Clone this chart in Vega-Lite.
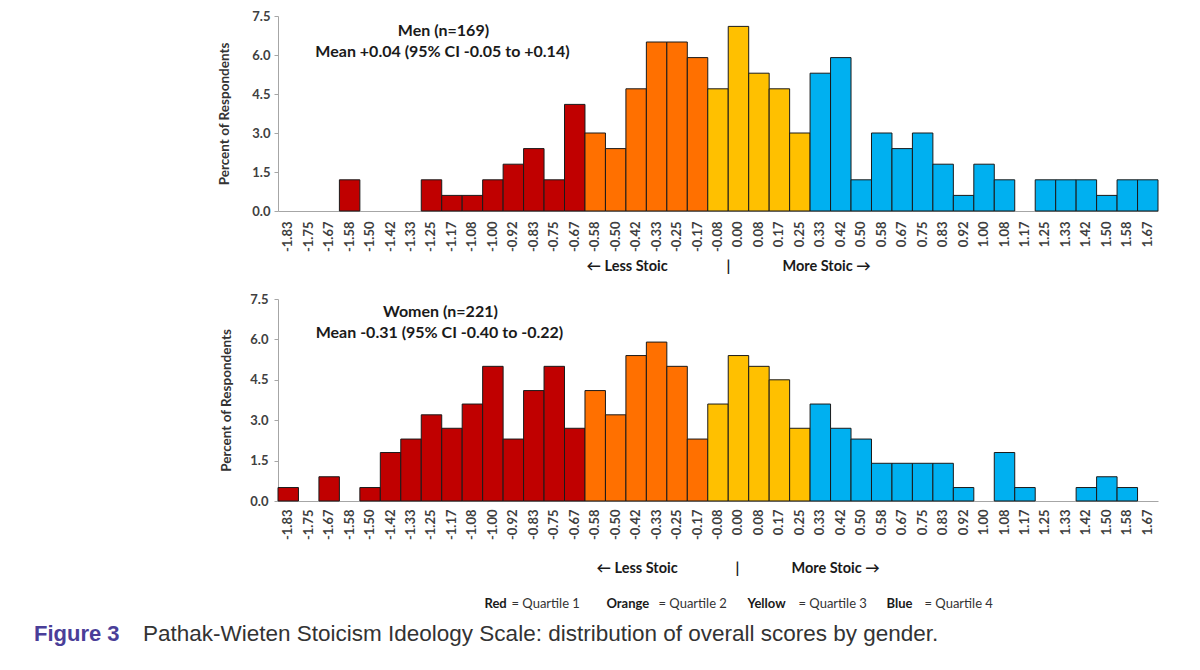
{
  "$schema": "https://vega.github.io/schema/vega-lite/v6.json",
  "padding": {"left": 33, "top": 10, "right": 5, "bottom": 5},
  "background": "white",
  "bounds": "flush",
  "spacing": 88,
  "config": {
    "view": {"stroke": null},
    "font": "Lato",
    "axis": {"grid": false, "domainColor": "#A6A6A6", "tickColor": "#A6A6A6", "labelFont": "Lato", "labelFontWeight": "bold", "labelColor": "#404040", "labelFontSize": 13, "labelOverlap": false, "titleFont": "Lato", "titleFontWeight": "bold", "titleColor": "#333333", "titleFontSize": 13.5}
  },
  "datasets": {
    "men": [
      {"score": "-1.83", "pct": 0, "q": "Q1"}, {"score": "-1.75", "pct": 0, "q": "Q1"}, {"score": "-1.67", "pct": 0, "q": "Q1"},
      {"score": "-1.58", "pct": 1.2, "q": "Q1"}, {"score": "-1.50", "pct": 0, "q": "Q1"}, {"score": "-1.42", "pct": 0, "q": "Q1"},
      {"score": "-1.33", "pct": 0, "q": "Q1"}, {"score": "-1.25", "pct": 1.2, "q": "Q1"}, {"score": "-1.17", "pct": 0.6, "q": "Q1"},
      {"score": "-1.08", "pct": 0.6, "q": "Q1"}, {"score": "-1.00", "pct": 1.2, "q": "Q1"}, {"score": "-0.92", "pct": 1.8, "q": "Q1"},
      {"score": "-0.83", "pct": 2.4, "q": "Q1"}, {"score": "-0.75", "pct": 1.2, "q": "Q1"}, {"score": "-0.67", "pct": 4.1, "q": "Q1"},
      {"score": "-0.58", "pct": 3.0, "q": "Q2"}, {"score": "-0.50", "pct": 2.4, "q": "Q2"}, {"score": "-0.42", "pct": 4.7, "q": "Q2"},
      {"score": "-0.33", "pct": 6.5, "q": "Q2"}, {"score": "-0.25", "pct": 6.5, "q": "Q2"}, {"score": "-0.17", "pct": 5.9, "q": "Q2"},
      {"score": "-0.08", "pct": 4.7, "q": "Q3"}, {"score": "0.00", "pct": 7.1, "q": "Q3"}, {"score": "0.08", "pct": 5.3, "q": "Q3"},
      {"score": "0.17", "pct": 4.7, "q": "Q3"}, {"score": "0.25", "pct": 3.0, "q": "Q3"},
      {"score": "0.33", "pct": 5.3, "q": "Q4"}, {"score": "0.42", "pct": 5.9, "q": "Q4"}, {"score": "0.50", "pct": 1.2, "q": "Q4"},
      {"score": "0.58", "pct": 3.0, "q": "Q4"}, {"score": "0.67", "pct": 2.4, "q": "Q4"}, {"score": "0.75", "pct": 3.0, "q": "Q4"},
      {"score": "0.83", "pct": 1.8, "q": "Q4"}, {"score": "0.92", "pct": 0.6, "q": "Q4"}, {"score": "1.00", "pct": 1.8, "q": "Q4"},
      {"score": "1.08", "pct": 1.2, "q": "Q4"}, {"score": "1.17", "pct": 0, "q": "Q4"}, {"score": "1.25", "pct": 1.2, "q": "Q4"},
      {"score": "1.33", "pct": 1.2, "q": "Q4"}, {"score": "1.42", "pct": 1.2, "q": "Q4"}, {"score": "1.50", "pct": 0.6, "q": "Q4"},
      {"score": "1.58", "pct": 1.2, "q": "Q4"}, {"score": "1.67", "pct": 1.2, "q": "Q4"}
    ],
    "women": [
      {"score": "-1.83", "pct": 0.5, "q": "Q1"}, {"score": "-1.75", "pct": 0, "q": "Q1"}, {"score": "-1.67", "pct": 0.9, "q": "Q1"},
      {"score": "-1.58", "pct": 0, "q": "Q1"}, {"score": "-1.50", "pct": 0.5, "q": "Q1"}, {"score": "-1.42", "pct": 1.8, "q": "Q1"},
      {"score": "-1.33", "pct": 2.3, "q": "Q1"}, {"score": "-1.25", "pct": 3.2, "q": "Q1"}, {"score": "-1.17", "pct": 2.7, "q": "Q1"},
      {"score": "-1.08", "pct": 3.6, "q": "Q1"}, {"score": "-1.00", "pct": 5.0, "q": "Q1"}, {"score": "-0.92", "pct": 2.3, "q": "Q1"},
      {"score": "-0.83", "pct": 4.1, "q": "Q1"}, {"score": "-0.75", "pct": 5.0, "q": "Q1"}, {"score": "-0.67", "pct": 2.7, "q": "Q1"},
      {"score": "-0.58", "pct": 4.1, "q": "Q2"}, {"score": "-0.50", "pct": 3.2, "q": "Q2"}, {"score": "-0.42", "pct": 5.4, "q": "Q2"},
      {"score": "-0.33", "pct": 5.9, "q": "Q2"}, {"score": "-0.25", "pct": 5.0, "q": "Q2"}, {"score": "-0.17", "pct": 2.3, "q": "Q2"},
      {"score": "-0.08", "pct": 3.6, "q": "Q3"}, {"score": "0.00", "pct": 5.4, "q": "Q3"}, {"score": "0.08", "pct": 5.0, "q": "Q3"},
      {"score": "0.17", "pct": 4.5, "q": "Q3"}, {"score": "0.25", "pct": 2.7, "q": "Q3"},
      {"score": "0.33", "pct": 3.6, "q": "Q4"}, {"score": "0.42", "pct": 2.7, "q": "Q4"}, {"score": "0.50", "pct": 2.3, "q": "Q4"},
      {"score": "0.58", "pct": 1.4, "q": "Q4"}, {"score": "0.67", "pct": 1.4, "q": "Q4"}, {"score": "0.75", "pct": 1.4, "q": "Q4"},
      {"score": "0.83", "pct": 1.4, "q": "Q4"}, {"score": "0.92", "pct": 0.5, "q": "Q4"}, {"score": "1.00", "pct": 0, "q": "Q4"},
      {"score": "1.08", "pct": 1.8, "q": "Q4"}, {"score": "1.17", "pct": 0.5, "q": "Q4"}, {"score": "1.25", "pct": 0, "q": "Q4"},
      {"score": "1.33", "pct": 0, "q": "Q4"}, {"score": "1.42", "pct": 0.5, "q": "Q4"}, {"score": "1.50", "pct": 0.9, "q": "Q4"},
      {"score": "1.58", "pct": 0.5, "q": "Q4"}, {"score": "1.67", "pct": 0, "q": "Q4"}
    ]
  },
  "vconcat": [
    {
      "width": 880,
      "height": 195,
      "data": {"name": "men"},
      "layer": [
        {
          "mark": {"type": "bar", "stroke": "#1a1a1a"},
          "encoding": {
            "x": {"field": "score", "type": "ordinal", "sort": null, "scale": {"type": "band", "paddingInner": 0, "paddingOuter": 0},
                  "axis": {"title": null, "labelAngle": -90, "ticks": false, "labelPadding": 10}},
            "y": {"field": "pct", "type": "quantitative", "scale": {"domain": [0, 7.5], "nice": false},
                  "axis": {"values": [0, 1.5, 3, 4.5, 6, 7.5], "format": ".1f", "labelOverlap": false, "title": "Percent  of Respondents", "tickSize": 4, "labelPadding": 4, "titlePadding": 20}},
            "color": {"field": "q", "type": "nominal", "scale": {"domain": ["Q1", "Q2", "Q3", "Q4"], "range": ["#C00000", "#FF7000", "#FFC000", "#00B0F0"]}, "legend": null},
            "strokeWidth": {"condition": {"test": "datum.pct == 0", "value": 0}, "value": 1}
          }
        },
        {
          "data": {"values": [{}]},
          "mark": {"type": "text", "text": "Men (n=169)", "font": "Lato", "fontWeight": "bold", "fontSize": 16, "color": "#1a1a1a", "align": "center", "baseline": "middle", "dx": -295},
          "encoding": {"x": {"datum": "0.00", "type": "ordinal", "bandPosition": 0.5}, "y": {"datum": 6.92, "type": "quantitative", "axis": {"values": [0, 1.5, 3, 4.5, 6, 7.5], "format": ".1f", "labelOverlap": false, "title": "Percent  of Respondents", "tickSize": 4, "labelPadding": 4, "titlePadding": 20}}}
        },
        {
          "data": {"values": [{}]},
          "mark": {"type": "text", "text": "Mean +0.04 (95% CI -0.05 to +0.14)", "font": "Lato", "fontWeight": "bold", "fontSize": 16, "color": "#1a1a1a", "align": "center", "baseline": "middle", "dx": -296},
          "encoding": {"x": {"datum": "0.00", "type": "ordinal", "bandPosition": 0.5}, "y": {"datum": 6.12, "type": "quantitative", "axis": {"values": [0, 1.5, 3, 4.5, 6, 7.5], "format": ".1f", "labelOverlap": false, "title": "Percent  of Respondents", "tickSize": 4, "labelPadding": 4, "titlePadding": 20}}}
        },
        {
          "data": {"values": [{}]},
          "mark": {"type": "text", "text": "←  Less Stoic", "font": "Lato", "fontWeight": "bold", "fontSize": 14.5, "color": "#1a1a1a", "align": "left", "baseline": "middle", "dx": -152},
          "encoding": {"x": {"datum": "0.00", "type": "ordinal", "bandPosition": 0.5}, "y": {"datum": -2.15, "type": "quantitative", "axis": {"values": [0, 1.5, 3, 4.5, 6, 7.5], "format": ".1f", "labelOverlap": false, "title": "Percent  of Respondents", "tickSize": 4, "labelPadding": 4, "titlePadding": 20}}}
        },
        {
          "data": {"values": [{}]},
          "mark": {"type": "text", "text": "|", "font": "Lato", "fontWeight": "bold", "fontSize": 14.5, "color": "#1a1a1a", "align": "center", "baseline": "middle", "dx": -10},
          "encoding": {"x": {"datum": "0.00", "type": "ordinal", "bandPosition": 0.5}, "y": {"datum": -2.15, "type": "quantitative", "axis": {"values": [0, 1.5, 3, 4.5, 6, 7.5], "format": ".1f", "labelOverlap": false, "title": "Percent  of Respondents", "tickSize": 4, "labelPadding": 4, "titlePadding": 20}}}
        },
        {
          "data": {"values": [{}]},
          "mark": {"type": "text", "text": "More Stoic   →", "font": "Lato", "fontWeight": "bold", "fontSize": 14.5, "color": "#1a1a1a", "align": "left", "baseline": "middle", "dx": 44},
          "encoding": {"x": {"datum": "0.00", "type": "ordinal", "bandPosition": 0.5}, "y": {"datum": -2.15, "type": "quantitative", "axis": {"values": [0, 1.5, 3, 4.5, 6, 7.5], "format": ".1f", "labelOverlap": false, "title": "Percent  of Respondents", "tickSize": 4, "labelPadding": 4, "titlePadding": 20}}}
        }
      ]
    },
    {
      "width": 880,
      "height": 202,
      "data": {"name": "women"},
      "layer": [
        {
          "mark": {"type": "bar", "stroke": "#1a1a1a"},
          "encoding": {
            "x": {"field": "score", "type": "ordinal", "sort": null, "scale": {"type": "band", "paddingInner": 0, "paddingOuter": 0},
                  "axis": {"title": null, "labelAngle": -90, "ticks": false, "labelPadding": 8}},
            "y": {"field": "pct", "type": "quantitative", "scale": {"domain": [0, 7.5], "nice": false},
                  "axis": {"values": [0, 1.5, 3, 4.5, 6, 7.5], "format": ".1f", "labelOverlap": false, "title": "Percent  of Respondents", "tickSize": 4, "labelPadding": 6, "titlePadding": 16}},
            "color": {"field": "q", "type": "nominal", "scale": {"domain": ["Q1", "Q2", "Q3", "Q4"], "range": ["#C00000", "#FF7000", "#FFC000", "#00B0F0"]}, "legend": null},
            "strokeWidth": {"condition": {"test": "datum.pct == 0", "value": 0}, "value": 1}
          }
        },
        {
          "data": {"values": [{}]},
          "mark": {"type": "text", "text": "Women (n=221)", "font": "Lato", "fontWeight": "bold", "fontSize": 16, "color": "#1a1a1a", "align": "center", "baseline": "middle", "dx": -298},
          "encoding": {"x": {"datum": "0.00", "type": "ordinal", "bandPosition": 0.5}, "y": {"datum": 7.02, "type": "quantitative"}}
        },
        {
          "data": {"values": [{}]},
          "mark": {"type": "text", "text": "Mean -0.31 (95% CI -0.40 to -0.22)", "font": "Lato", "fontWeight": "bold", "fontSize": 16, "color": "#1a1a1a", "align": "center", "baseline": "middle", "dx": -299},
          "encoding": {"x": {"datum": "0.00", "type": "ordinal", "bandPosition": 0.5}, "y": {"datum": 6.24, "type": "quantitative"}}
        },
        {
          "data": {"values": [{}]},
          "mark": {"type": "text", "text": "←  Less Stoic", "font": "Lato", "fontWeight": "bold", "fontSize": 14.5, "color": "#1a1a1a", "align": "left", "baseline": "middle", "dx": -142},
          "encoding": {"x": {"datum": "0.00", "type": "ordinal", "bandPosition": 0.5}, "y": {"datum": -2.52, "type": "quantitative"}}
        },
        {
          "data": {"values": [{}]},
          "mark": {"type": "text", "text": "|", "font": "Lato", "fontWeight": "bold", "fontSize": 14.5, "color": "#1a1a1a", "align": "center", "baseline": "middle", "dx": -1},
          "encoding": {"x": {"datum": "0.00", "type": "ordinal", "bandPosition": 0.5}, "y": {"datum": -2.52, "type": "quantitative"}}
        },
        {
          "data": {"values": [{}]},
          "mark": {"type": "text", "text": "More Stoic   →", "font": "Lato", "fontWeight": "bold", "fontSize": 14.5, "color": "#1a1a1a", "align": "left", "baseline": "middle", "dx": 53},
          "encoding": {"x": {"datum": "0.00", "type": "ordinal", "bandPosition": 0.5}, "y": {"datum": -2.52, "type": "quantitative"}}
        },
        {
          "data": {"values": [{}]},
          "mark": {"type": "text", "text": "Red", "font": "Lato", "fontWeight": "bold", "fontSize": 13, "color": "#1a1a1a", "align": "left", "baseline": "middle", "dx": -254},
          "encoding": {"x": {"datum": "0.00", "type": "ordinal", "bandPosition": 0.5}, "y": {"datum": -3.83, "type": "quantitative"}}
        },
        {
          "data": {"values": [{}]},
          "mark": {"type": "text", "text": "= Quartile 1", "font": "Lato", "fontSize": 13, "color": "#333333", "align": "left", "baseline": "middle", "dx": -227},
          "encoding": {"x": {"datum": "0.00", "type": "ordinal", "bandPosition": 0.5}, "y": {"datum": -3.83, "type": "quantitative"}}
        },
        {
          "data": {"values": [{}]},
          "mark": {"type": "text", "text": "Orange", "font": "Lato", "fontWeight": "bold", "fontSize": 13, "color": "#1a1a1a", "align": "left", "baseline": "middle", "dx": -132},
          "encoding": {"x": {"datum": "0.00", "type": "ordinal", "bandPosition": 0.5}, "y": {"datum": -3.83, "type": "quantitative"}}
        },
        {
          "data": {"values": [{}]},
          "mark": {"type": "text", "text": "= Quartile 2", "font": "Lato", "fontSize": 13, "color": "#333333", "align": "left", "baseline": "middle", "dx": -80},
          "encoding": {"x": {"datum": "0.00", "type": "ordinal", "bandPosition": 0.5}, "y": {"datum": -3.83, "type": "quantitative"}}
        },
        {
          "data": {"values": [{}]},
          "mark": {"type": "text", "text": "Yellow", "font": "Lato", "fontWeight": "bold", "fontSize": 13, "color": "#1a1a1a", "align": "left", "baseline": "middle", "dx": 9},
          "encoding": {"x": {"datum": "0.00", "type": "ordinal", "bandPosition": 0.5}, "y": {"datum": -3.83, "type": "quantitative"}}
        },
        {
          "data": {"values": [{}]},
          "mark": {"type": "text", "text": "= Quartile 3", "font": "Lato", "fontSize": 13, "color": "#333333", "align": "left", "baseline": "middle", "dx": 60},
          "encoding": {"x": {"datum": "0.00", "type": "ordinal", "bandPosition": 0.5}, "y": {"datum": -3.83, "type": "quantitative"}}
        },
        {
          "data": {"values": [{}]},
          "mark": {"type": "text", "text": "Blue", "font": "Lato", "fontWeight": "bold", "fontSize": 13, "color": "#1a1a1a", "align": "left", "baseline": "middle", "dx": 148},
          "encoding": {"x": {"datum": "0.00", "type": "ordinal", "bandPosition": 0.5}, "y": {"datum": -3.83, "type": "quantitative"}}
        },
        {
          "data": {"values": [{}]},
          "mark": {"type": "text", "text": "= Quartile 4", "font": "Lato", "fontSize": 13, "color": "#333333", "align": "left", "baseline": "middle", "dx": 186},
          "encoding": {"x": {"datum": "0.00", "type": "ordinal", "bandPosition": 0.5}, "y": {"datum": -3.83, "type": "quantitative"}}
        },
        {
          "data": {"values": [{}]},
          "mark": {"type": "text", "text": "Figure 3", "font": "Liberation Sans", "fontWeight": "bold", "fontSize": 22, "color": "#4A3E98", "align": "left", "baseline": "middle", "dx": -704.5},
          "encoding": {"x": {"datum": "0.00", "type": "ordinal", "bandPosition": 0.5}, "y": {"datum": -4.94, "type": "quantitative"}}
        },
        {
          "data": {"values": [{}]},
          "mark": {"type": "text", "text": "Pathak-Wieten Stoicism Ideology Scale: distribution of overall scores by gender.", "font": "Liberation Sans", "fontSize": 22.5, "color": "#333333", "align": "left", "baseline": "middle", "dx": -595.5},
          "encoding": {"x": {"datum": "0.00", "type": "ordinal", "bandPosition": 0.5}, "y": {"datum": -4.94, "type": "quantitative"}}
        }
      ]
    }
  ]
}
